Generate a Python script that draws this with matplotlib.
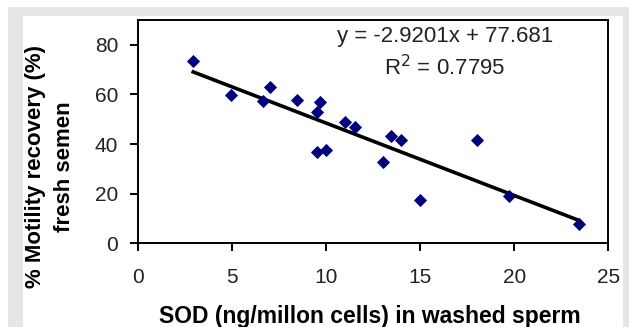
import matplotlib
matplotlib.use("Agg")
import numpy as np
import matplotlib.pyplot as plt
from matplotlib.patches import Rectangle

# SOD (ng/million cells) vs motility recovery (%)
sod = [2.95, 4.96, 6.67, 7.01, 8.46, 9.66, 9.51, 9.51, 9.98, 11.0,
       11.54, 13.03, 13.46, 14.0, 15.02, 18.01, 19.72, 23.42]
motility = [73.6, 59.9, 57.2, 63.0, 57.6, 57.0, 52.8, 36.7, 37.7, 49.0,
            46.8, 32.8, 43.1, 41.7, 17.6, 41.8, 19.0, 7.9]

slope = -2.9201
intercept = 77.681
r2 = 0.7795

x_ticks = [0, 5, 10, 15, 20, 25]
y_ticks = [0, 20, 40, 60, 80]

tick_font = ["Liberation Sans Narrow", "Liberation Sans", "DejaVu Sans"]
label_font = ["Liberation Sans", "DejaVu Sans"]

W, H = 629, 327
fig = plt.figure(figsize=(W / 100, H / 100), dpi=100)
fig.patch.set_facecolor("white")

# grey frame with white panel, like the page the chart was cut from
fig.patches.append(Rectangle((8 / W, 0), 1 - 8 / W, 1 - 7 / H, transform=fig.transFigure,
                             facecolor="#e6e6e6", edgecolor="none", zorder=-2))
fig.patches.append(Rectangle((23 / W, 0), (623 - 23) / W, 1 - 16 / H, transform=fig.transFigure,
                             facecolor="white", edgecolor="none", zorder=-1))

ax = fig.add_axes([137.7 / W, 1 - 243.3 / H, (608.3 - 137.7) / W, (243.3 - 20) / H])
ax.patch.set_alpha(0)

ax.plot(sod, motility, linestyle="none", marker="D", ms=6.6,
        color="#00007f", mec="#00007f", mew=0.6, zorder=3)

xs = np.array([min(sod), max(sod)])
ax.plot(xs, slope * xs + intercept, color="black", lw=2.6, zorder=2)

ax.set_xlim(0, 25)
ax.set_ylim(0, 90)
ax.set_xticks(x_ticks)
ax.set_yticks(y_ticks)

for s in ax.spines.values():
    s.set_linewidth(1.4)
    s.set_color("black")

ax.tick_params(axis="both", direction="out", length=6, width=1.4, color="black",
               labelsize=15)
ax.tick_params(axis="x", pad=12)
ax.tick_params(axis="y", pad=8)
for lab in ax.get_xticklabels() + ax.get_yticklabels():
    lab.set_family(tick_font)
    lab.set_color("#222222")

ax.text(16.35, 83.3, f"y = {slope}x + {intercept}", ha="center", va="center",
        fontsize=16, family=tick_font, color="#222222")
ax.text(16.3, 70.8, f"R$^2$ = {r2}", ha="center", va="center",
        fontsize=16, family=tick_font, color="#222222")

fig.text(370 / W, 1 - 316 / H, "SOD (ng/millon cells) in washed sperm",
         ha="center", va="center", fontsize=16.5, fontweight="bold", family=label_font)
fig.text(50 / W, 1 - 167 / H, "% Motility recovery (%)\nfresh semen",
         ha="center", va="center", rotation=90, fontsize=16, fontweight="bold",
         family=label_font, linespacing=1.5)

fig.savefig("out.png", dpi=100)
